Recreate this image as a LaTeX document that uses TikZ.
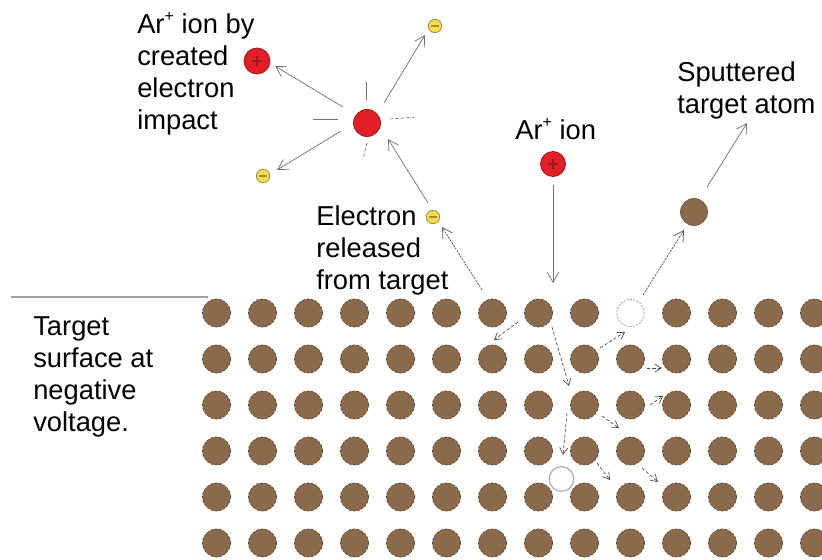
\documentclass[tikz,border=0pt]{standalone}
\usepackage{fontspec}
\setmainfont{Liberation Sans}
\usetikzlibrary{arrows.meta}

\definecolor{atombrown}{RGB}{139,106,76}
\definecolor{atomedge}{RGB}{90,70,52}
\definecolor{ionred}{RGB}{228,30,38}
\definecolor{ionedge}{RGB}{150,28,28}
\definecolor{eyellow}{RGB}{244,222,80}
\definecolor{eedge}{RGB}{160,140,60}
\definecolor{raygray}{RGB}{115,115,115}
\definecolor{holeblue}{RGB}{168,176,188}

% small raised plus sign for "Ar+"
\newcommand{\supplus}{\raisebox{0.42em}{\fontsize{12}{12}\selectfont+}}
% fixed first-line height so labels can be placed by their top edge
\newcommand{\firstline}{\rule{0pt}{17pt}}

\begin{document}
\begin{tikzpicture}[x=0.75pt,y=-0.75pt,
  atom/.style={circle,fill=atombrown,draw=atomedge,line width=0.5pt,
    dash pattern=on 2pt off 1.2pt,minimum size=21pt,inner sep=0pt},
  vacancy/.style={circle,fill=white,draw=gray!70,line width=0.6pt,
    dash pattern=on 1.5pt off 1pt,minimum size=20.5pt,inner sep=0pt},
  vacancysolid/.style={circle,fill=white,draw=holeblue,line width=0.9pt,
    minimum size=18.5pt,inner sep=0pt},
  ion/.style={circle,fill=ionred,draw=ionedge,line width=0.6pt,
    minimum size=18.75pt,inner sep=0pt},
  plussign/.style={path picture={
    \draw[line width=1.4pt]
      ([xshift=-4pt]path picture bounding box.center) --
      ([xshift=4pt]path picture bounding box.center);
    \draw[line width=1.4pt]
      ([yshift=-4pt]path picture bounding box.center) --
      ([yshift=4pt]path picture bounding box.center);}},
  electron/.style={circle,fill=eyellow,draw=eedge,line width=0.6pt,
    minimum size=10pt,inner sep=0pt,path picture={
    \draw[line width=1.4pt]
      ([xshift=-2.8pt]path picture bounding box.center) --
      ([xshift=2.8pt]path picture bounding box.center);}},
  caption/.style={font=\fontsize{20.5}{24}\selectfont,align=left,
    inner sep=0pt,anchor=north west},
  ray/.style={draw=raygray,line width=0.55pt,
    -{Straight Barb[length=7.5pt,width=8.5pt]}},
  dottedray/.style={ray,draw=black!65,dash pattern=on 1.6pt off 0.8pt},
  cascade/.style={draw=black!70,line width=0.5pt,
    dash pattern=on 2.5pt off 1.5pt,
    -{Straight Barb[length=5pt,width=6pt]}},
  flash/.style={draw=raygray,line width=0.5pt},
  flashdash/.style={flash,dash pattern=on 2.5pt off 1.5pt},
]
\useasboundingbox[fill=white] (0,0) rectangle (822,560);

% ---- target lattice ----
\foreach \r in {1,...,6}{
  \foreach \c in {1,...,14}{
    \pgfmathtruncatemacro{\holeflag}{and(\r==1,\c==10)}
    \ifnum\holeflag=0
      \node[atom] (a-\r-\c) at ({216.5+46*(\c-1)},{313+46*(\r-1)}) {};
    \fi
  }
}
\node[vacancy] (vac1) at (630.5,313) {};
\node[vacancysolid] (vac2) at (561.5,479) {};

% target surface line
\coordinate (surfL) at (11,297);
\coordinate (surfR) at (208,297);
\draw[draw=gray!75,line width=0.8pt] (surfL) -- (surfR);

% ---- particles above the target ----
\node[ion,plussign] (arion) at (553,164) {};
\node[ion,plussign,minimum size=19.5pt] (newion) at (257,61) {};
\node[ion,minimum size=20.25pt] (hit) at (367,123) {};
\node[atom,minimum size=20.25pt,dash pattern=on 100pt off 0pt,draw=atombrown!80!black] (sput) at (694,212) {};

\node[electron] (eTop) at (435,26) {};
\node[electron] (eLeft) at (263,176) {};
\node[electron] (eRel) at (433,217) {};

% ---- labels ----
\node[caption] (lblNew) at (137,10.3)
  {\firstline Ar\supplus{} ion by\\created\\electron\\impact};
\node[caption] (lblTarget) at (33,312.3)
  {\firstline Target\\surface at\\negative\\voltage.};
\node[caption] (lblRel) at (316,202.3)
  {\firstline Electron\\released\\from target};
\node[caption] (lblIon) at (515,116.3)
  {\firstline Ar\supplus{} ion};
\node[caption] (lblSput) at (677,58.3)
  {\firstline Sputtered\\target atom};

% ---- ionising impact ----
\coordinate (hitA) at (343,107);  \coordinate (newionTip) at (275,66);
\coordinate (hitB) at (384,103);  \coordinate (eTopTip) at (425,35);
\coordinate (hitC) at (341,131);  \coordinate (eLeftTip) at (277,170);
\coordinate (eRelOut) at (428,203); \coordinate (hitTip) at (388,139);
\draw[ray] (hitA) -- (newionTip);
\draw[ray] (hitB) -- (eTopTip);
\draw[ray] (hitC) -- (eLeftTip);
\draw[ray] (eRelOut) -- (hitTip);

% short marks around the struck atom
\coordinate (fT1) at (366,82);  \coordinate (fT2) at (366,100);
\coordinate (fL1) at (313,119); \coordinate (fL2) at (338,119);
\coordinate (fR1) at (390,119); \coordinate (fR2) at (416,117);
\coordinate (fB1) at (367,143); \coordinate (fB2) at (363,159);
\draw[flash] (fT1) -- (fT2);
\draw[flash] (fL1) -- (fL2);
\draw[flashdash] (fR1) -- (fR2);
\draw[flashdash] (fB1) -- (fB2);

% ---- electron emission, incoming ion, sputtering ----
\coordinate (relStart) at (482,290); \coordinate (relTip) at (442,227);
\draw[dottedray] (relStart) -- (relTip);
\coordinate (ionStart) at (553,185); \coordinate (ionTip) at (553,283);
\draw[ray] (ionStart) -- (ionTip);
\coordinate (vacOut) at (643,295); \coordinate (sputTip) at (684,230);
\draw[dottedray] (vacOut) -- (sputTip);
\coordinate (sputOut) at (707,187); \coordinate (awayTip) at (747,123);
\draw[ray] (sputOut) -- (awayTip);

% ---- collision cascade inside the target ----
\coordinate (c1s) at (518,322); \coordinate (c1e) at (494,340);
\coordinate (c2s) at (552,327); \coordinate (c2e) at (569,386);
\coordinate (c3s) at (600,348); \coordinate (c3e) at (625,332);
\coordinate (c4s) at (647,368); \coordinate (c4e) at (662,368);
\coordinate (c5s) at (650,405); \coordinate (c5e) at (663,396);
\coordinate (c6s) at (602,416); \coordinate (c6e) at (619,428);
\coordinate (c7s) at (567,413); \coordinate (c7e) at (563,455);
\coordinate (c8s) at (597,463); \coordinate (c8e) at (610,480);
\coordinate (c9s) at (642,468); \coordinate (c9e) at (658,482);
\foreach \k in {1,...,9}{\draw[cascade] (c\k s) -- (c\k e);}

\end{tikzpicture}
\end{document}
